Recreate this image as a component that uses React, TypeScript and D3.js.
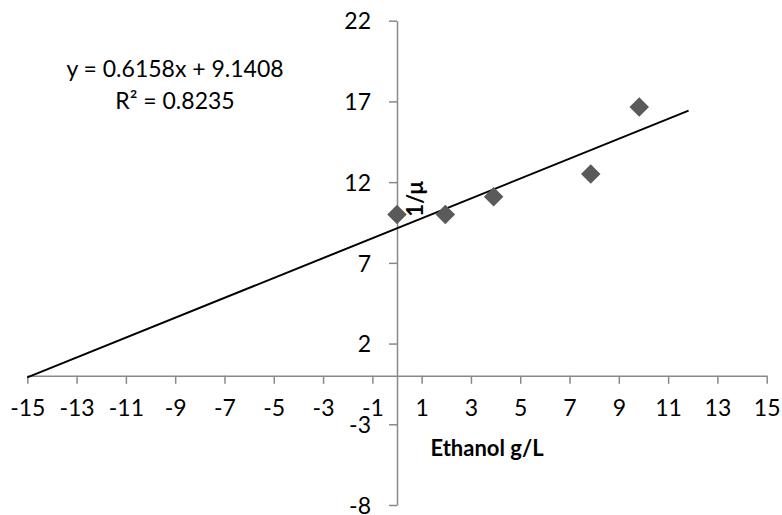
import React, { useEffect, useRef } from 'react';
import * as d3 from 'd3';

// measured points (ethanol g/L vs 1/mu)
const ethanol = [0, 1.96, 3.92, 7.86, 9.83];
const invMu = [10.0, 10.0, 11.1, 12.5, 16.65];

const xTicks = [-15, -13, -11, -9, -7, -5, -3, -1, 1, 3, 5, 7, 9, 11, 13, 15];
const yTicks = [-8, -3, 2, 7, 12, 17, 22];

// linear trendline as reported by the spreadsheet
const slope = 0.6158;
const intercept = 9.1408;
const trendBackward = 15;
const trendForward = 2;
const equationText = 'y = 0.6158x + 9.1408';
const r2Text = 'R² = 0.8235';

const xTitle = 'Ethanol g/L';
const yTitle = '1/μ';

const App = () => {
  const svgRef = useRef(null);

  useEffect(() => {
    const width = 782;
    const height = 515;
    const font = 'Lato, Calibri, sans-serif';
    const axisColor = '#898989';

    const svg = d3.select(svgRef.current)
      .attr('width', width)
      .attr('height', height);
    svg.selectAll('*').remove();

    const x = d3.scaleLinear().domain([-15, 15]).range([27.3, 766.7]);
    const y = d3.scaleLinear().domain([-8, 22]).range([505, 20.7]);
    const plain = d => String(d); // hyphen minus like the spreadsheet

    // x axis sits at y = 0
    const gx = svg.append('g')
      .attr('transform', `translate(0,${y(0)})`)
      .call(d3.axisBottom(x).tickValues(xTicks).tickSize(8).tickSizeOuter(0).tickPadding(16).tickFormat(plain));

    // y axis sits at x = 0
    const gy = svg.append('g')
      .attr('transform', `translate(${x(0)},0)`)
      .call(d3.axisLeft(y).tickValues(yTicks).tickSize(8).tickSizeOuter(0).tickPadding(18).tickFormat(plain));

    [gx, gy].forEach(g => {
      g.selectAll('path, line').attr('stroke', axisColor).attr('stroke-width', 1.5);
      g.selectAll('text')
        .attr('fill', '#000')
        .attr('font-family', font)
        .attr('font-size', '23px');
    });
    gy.selectAll('text').attr('dy', '0.36em');

    // trendline
    const x0 = d3.min(ethanol) - trendBackward;
    const x1 = d3.max(ethanol) + trendForward;
    const line = d3.line()
      .x(d => x(d))
      .y(d => y(slope * d + intercept));
    svg.append('path')
      .datum([x0, x1])
      .attr('d', line)
      .attr('fill', 'none')
      .attr('stroke', '#000')
      .attr('stroke-width', 2);

    // markers
    const diamond = d3.symbol(d3.symbolSquare, 190);
    svg.selectAll('path.pt')
      .data(ethanol.map((e, i) => [e, invMu[i]]))
      .enter()
      .append('path')
      .attr('class', 'pt')
      .attr('d', diamond)
      .attr('transform', d => `translate(${x(d[0])},${y(d[1])}) rotate(45)`)
      .attr('fill', '#5a5a5a');

    // equation label
    const eq = svg.append('g')
      .attr('font-family', font)
      .attr('font-size', '23px')
      .attr('text-anchor', 'middle');
    eq.append('text').attr('x', 175).attr('y', 77).text(equationText);
    eq.append('text').attr('x', 175).attr('y', 109).text(r2Text);

    // axis titles
    svg.append('text')
      .attr('x', 487)
      .attr('y', 456)
      .attr('text-anchor', 'middle')
      .attr('font-family', font)
      .attr('font-weight', 'bold')
      .attr('font-size', '22px')
      .text(xTitle);

    svg.append('text')
      .attr('transform', 'translate(414,199) rotate(-90)')
      .attr('text-anchor', 'middle')
      .attr('dominant-baseline', 'central')
      .attr('font-family', font)
      .attr('font-weight', 'bold')
      .attr('font-size', '22px')
      .text(yTitle);
  }, []);

  return (
    <>
      <style>{'body{margin:0;background:#fff}'}</style>
      <svg ref={svgRef} style={{ display: 'block' }} />
    </>
  );
};

export default App;
